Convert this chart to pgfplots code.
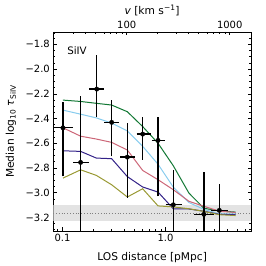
\documentclass[border=0pt]{standalone}
\usepackage{fontspec}
\setmainfont{DejaVu Sans}
\usepackage{pgfplots}
\pgfplotsset{compat=1.18}
\definecolor{cgreen}{HTML}{117733}
\definecolor{ccyan}{HTML}{88CCEE}
\definecolor{crose}{HTML}{CC6677}
\definecolor{cindigo}{HTML}{332288}
\definecolor{colive}{HTML}{999933}
\definecolor{band}{HTML}{E3E3E3}
\begin{document}
\begin{tikzpicture}
\begin{axis}[name=ax,
  width=197.7bp, height=199bp, scale only axis,
  xmode=log, xmin=0.0814, xmax=6.76, ymin=-3.31, ymax=-1.70,
  xtick={0.1,1}, xticklabels={0.1,1.0},
  minor xtick={0.09,0.2,0.3,0.4,0.5,0.6,0.7,0.8,0.9,2,3,4,5,6},
  ytick={-3.2,-3.0,-2.8,-2.6,-2.4,-2.2,-2.0,-1.8},
  yticklabels={−3.2,−3.0,−2.8,−2.6,−2.4,−2.2,−2.0,−1.8},
  minor ytick={-3.30,-3.25,-3.15,-3.10,-3.05,-2.95,-2.90,-2.85,-2.75,-2.70,-2.65,-2.55,-2.50,-2.45,-2.35,-2.30,-2.25,-2.15,-2.10,-2.05,-1.95,-1.90,-1.85,-1.75},
  tick align=inside, xtick pos=bottom, ytick pos=both,
  major tick length=3.5bp, minor tick length=2bp,
  every tick/.style={black, line width=0.6bp},
  axis line style={black, line width=0.8bp},
  ticklabel style={font=\fontsize{10}{12}\selectfont},
  label style={font=\fontsize{10.7}{13}\selectfont},
  xlabel={LOS distance [pMpc]},
  ylabel={Median log\textsubscript{10} {\itshape τ}\textsubscript{SiIV}},
  xlabel style={at={(axis description cs:0.5,-0.131)}, anchor=center},
  ylabel style={at={(axis description cs:-0.214,0.5)}, anchor=center},
  clip=true,
]
\addplot[fill=band, draw=none] coordinates {(0.0814,-3.232) (6.76,-3.232) (6.76,-3.103) (0.0814,-3.103)} -- cycle;
\addplot[gray, dotted, line width=0.8bp] coordinates {(0.0814,-3.166) (6.76,-3.166)};

\addplot[cgreen, line width=1bp] coordinates {(0.101,-2.251) (0.15,-2.262) (0.213,-2.277) (0.30,-2.291) (0.426,-2.345) (0.60,-2.465) (0.846,-2.600) (1.19,-2.782) (1.69,-3.004) (2.36,-3.126) (3.33,-3.148) (4.8,-3.157)};
\addplot[ccyan, line width=1bp] coordinates {(0.101,-2.332) (0.15,-2.365) (0.213,-2.395) (0.30,-2.437) (0.426,-2.500) (0.60,-2.625) (0.846,-2.770) (1.19,-2.955) (1.69,-3.080) (2.36,-3.135) (3.33,-3.172) (4.8,-3.172)};
\addplot[crose, line width=1bp] coordinates {(0.101,-2.475) (0.15,-2.543) (0.213,-2.566) (0.30,-2.593) (0.426,-2.655) (0.60,-2.820) (0.846,-2.895) (1.19,-2.976) (1.69,-3.070) (2.36,-3.110) (3.33,-3.150) (4.8,-3.160)};
\addplot[cindigo, line width=1bp] coordinates {(0.101,-2.661) (0.15,-2.666) (0.213,-2.720) (0.30,-2.725) (0.426,-2.870) (0.60,-2.954) (0.846,-2.995) (1.19,-3.130) (1.69,-3.132) (2.36,-3.150) (3.33,-3.175) (4.8,-3.178)};
\addplot[colive, line width=1bp] coordinates {(0.101,-2.882) (0.15,-2.815) (0.213,-2.860) (0.30,-2.936) (0.426,-3.035) (0.60,-2.968) (0.846,-3.107) (1.19,-3.115) (1.69,-3.130) (2.36,-3.152) (3.33,-3.178) (4.8,-3.185)};

% error bars
\pgfplotsset{eb/.style={black, line width=1.3bp}}
\addplot[eb] coordinates {(0.081,-2.475) (0.127,-2.475)};
\addplot[eb] coordinates {(0.101,-2.868) (0.101,-2.264)};
\addplot[eb] coordinates {(0.127,-2.755) (0.182,-2.755)};
\addplot[eb] coordinates {(0.15,-3.5) (0.15,-2.216)};
\addplot[eb] coordinates {(0.181,-2.162) (0.253,-2.162)};
\addplot[eb] coordinates {(0.215,-2.39) (0.215,-1.887)};
\addplot[eb] coordinates {(0.254,-2.431) (0.356,-2.431)};
\addplot[eb] coordinates {(0.30,-2.706) (0.30,-2.251)};
\addplot[eb] coordinates {(0.362,-2.712) (0.505,-2.712)};
\addplot[eb] coordinates {(0.426,-3.043) (0.426,-2.44)};
\addplot[eb] coordinates {(0.525,-2.526) (0.718,-2.526)};
\addplot[eb] coordinates {(0.60,-2.734) (0.60,-2.39)};
\addplot[eb] coordinates {(0.735,-2.577) (0.99,-2.577)};
\addplot[eb] coordinates {(0.846,-3.03) (0.846,-2.39)};
\addplot[eb] coordinates {(1.0,-3.098) (1.44,-3.098)};
\addplot[eb] coordinates {(1.19,-3.5) (1.19,-2.815)};
\addplot[eb] coordinates {(1.9,-3.175) (2.96,-3.175)};
\addplot[eb] coordinates {(2.36,-3.5) (2.36,-2.836)};
\addplot[eb] coordinates {(2.77,-3.143) (4.08,-3.143)};
\addplot[eb] coordinates {(3.33,-3.5) (3.33,-2.928)};
\addplot[only marks, mark=*, mark size=2.2bp, black] coordinates {(0.101,-2.475) (0.15,-2.755) (0.215,-2.162) (0.30,-2.431) (0.426,-2.712) (0.60,-2.526) (0.846,-2.577) (1.19,-3.098) (2.36,-3.175) (3.33,-3.143)};

\node[font=\fontsize{10.3}{12}\selectfont] at (rel axis cs:0.12,0.907) {SiIV};
\end{axis}
\begin{axis}[
  width=197.7bp, height=199bp, scale only axis,
  at={(ax.south west)}, anchor=south west,
  xmode=log, xmin=19.37, xmax=1609, ymin=0, ymax=1,
  axis x line*=top, axis y line=none,
  xtick={100,1000}, xticklabels={100,1000},
  minor xtick={20,30,40,50,60,70,80,90,200,300,400,500,600,700,800,900},
  tick align=inside,
  major tick length=3.5bp, minor tick length=2bp,
  every tick/.style={black, line width=0.6bp},
  axis line style={black, line width=0.8bp},
  ticklabel style={font=\fontsize{10}{12}\selectfont},
  label style={font=\fontsize{10.7}{13}\selectfont},
  xlabel={{\itshape v} [km s\textsuperscript{−1}]},
  xlabel style={at={(axis description cs:0.5,1.108)}, anchor=center},
]
\end{axis}
\pgfresetboundingbox
\path ([shift={(-53.3bp,-35bp)}]ax.south west) rectangle ([shift={(15bp,32bp)}]ax.north east);
\end{tikzpicture}
\end{document}
